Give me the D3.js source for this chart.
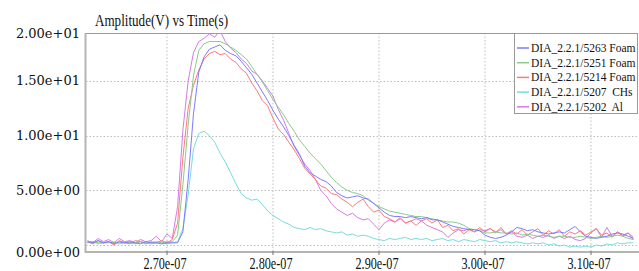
<!DOCTYPE html>
<html><head><meta charset="utf-8">
<script src="https://cdn.jsdelivr.net/npm/d3@7/dist/d3.min.js"></script>
<style>
html,body{margin:0;padding:0;background:#fff;}
svg{display:block;}
</style>
</head><body>
<div id="chart"></div>
<script>
// ---- DATA (time in ns, amplitude in V) ----
const sampleStart = 262.5, sampleStep = 0.5, sampleCount = 104;
const sampleTimes = d3.range(sampleCount).map(i => sampleStart + sampleStep * i);

const seriesNames = ["DIA_2.2.1/5263 Foam","DIA_2.2.1/5251 Foam","DIA_2.2.1/5214 Foam","DIA_2.2.1/5207  CHs","DIA_2.2.1/5202  Al"];
const seriesColors = ["#7c7cff","#8aca8a","#ff7878","#78dcdc","#d47ce4"];

const blue5263 = [
 0.3,0.2,0.4,0.2,0.3,0.1,0.3,0.2,0.3,0.2,
 0.1,0.3,0.2,0.2,0.1,0.2,0.2,0.2,1.2,6.0,
 12.0,15.8,17.2,17.9,18.1,18.3,17.8,17.5,17.3,16.8,
 16.2,15.6,14.8,14.0,13.2,12.3,11.5,10.8,10.0,9.1,
 8.3,7.2,6.6,6.3,6.0,5.8,5.4,4.8,4.5,4.3,
 4.4,4.5,4.3,4.2,3.8,3.4,3.0,2.7,2.6,2.6,
 2.5,2.6,2.5,2.4,2.5,2.3,2.3,2.1,1.9,1.7,
 1.6,1.5,1.4,1.4,1.3,0.9,0.7,0.6,0.7,0.9,
 1.2,1.6,1.5,1.3,1.4,1.2,1.1,1.0,1.1,1.2,
 1.1,1.4,1.7,1.2,0.8,0.7,0.6,0.7,0.8,1.0,
 1.1,1.0,0.8,0.6];
const green5251 = [
 0.2,0.3,0.2,0.2,0.3,0.2,0.2,0.3,0.2,0.2,
 0.3,0.2,0.2,0.3,0.2,0.3,0.3,0.9,5.5,11.0,
 15.5,17.8,18.4,18.6,18.6,18.6,18.4,18.1,17.8,17.4,
 17.0,16.3,15.6,14.9,14.1,13.3,12.6,11.9,11.1,10.4,
 9.6,9.0,8.4,7.9,7.4,6.8,6.2,5.7,5.3,5.0,
 4.8,4.7,4.5,4.1,3.8,3.5,3.3,3.1,3.0,2.9,
 2.8,2.7,2.6,2.6,2.5,2.4,2.3,2.2,2.1,2.1,
 2.0,1.8,1.5,1.4,1.3,1.1,1.1,1.2,1.1,1.1,
 1.0,1.1,0.9,1.0,0.9,0.8,0.9,0.8,0.7,0.8,
 0.8,0.7,0.7,0.8,0.7,0.6,0.7,0.8,0.7,0.8,
 0.9,0.8,0.6,0.5];
const red5214 = [
 0.3,0.1,0.4,0.2,0.3,0.0,0.4,0.2,0.1,0.4,
 0.3,0.1,0.3,0.2,0.4,0.2,0.5,2.0,8.0,12.5,
 14.6,16.0,17.0,17.5,17.7,17.4,17.5,17.0,16.7,16.1,
 15.7,14.8,14.1,13.2,12.7,11.6,10.6,10.1,9.4,8.7,
 7.9,7.0,6.5,6.0,5.4,5.2,4.7,4.6,4.2,3.9,
 3.5,3.9,4.2,3.5,3.0,3.2,2.6,2.4,2.1,2.5,
 2.0,2.2,1.8,2.2,2.4,2.0,2.3,1.6,1.8,1.3,
 1.5,1.0,1.4,1.2,1.6,1.2,1.5,1.1,1.6,1.0,
 1.3,1.0,1.4,0.9,1.2,1.5,0.9,1.3,1.0,1.4,
 0.8,1.2,1.0,1.3,0.9,1.2,1.5,0.9,1.1,0.7,
 1.2,0.8,1.1,0.5];
const cyan5207 = [
 0.2,0.3,0.1,0.2,0.2,0.3,0.1,0.2,0.2,0.1,
 0.3,0.2,0.1,0.2,0.2,0.1,0.2,0.3,1.5,4.6,
 8.8,10.2,10.4,10.0,9.4,8.4,7.6,6.6,5.6,4.7,
 4.3,4.1,4.2,3.7,3.1,2.7,2.4,2.1,1.9,1.6,
 1.5,1.4,1.6,1.4,1.5,1.3,1.2,1.1,1.2,0.9,
 1.0,0.8,0.9,0.8,0.6,0.5,0.4,0.6,0.5,0.6,
 0.7,0.5,0.6,0.5,0.6,0.4,0.5,0.6,0.4,0.5,
 0.3,0.5,0.4,0.3,0.5,0.4,0.3,0.4,0.2,0.3,
 0.2,0.3,0.2,0.1,0.2,0.1,0.2,0.0,0.1,-0.1,
 0.0,-0.2,-0.1,-0.2,-0.1,-0.2,0.0,-0.1,0.1,0.0,
 0.2,0.1,0.2,0.2];
const magenta5202 = [
 0.4,0.2,0.6,0.3,0.5,0.2,0.6,0.3,0.4,0.2,
 0.5,0.3,0.4,0.8,0.3,1.0,0.6,3.5,10.5,15.0,
 17.6,18.6,18.9,19.3,19.0,19.6,18.6,18.0,17.6,17.0,
 16.6,15.9,15.6,15.0,14.3,13.6,12.4,11.4,10.2,9.0,
 8.2,7.4,6.8,6.0,5.0,4.5,3.8,3.3,3.0,2.7,
 2.9,2.5,2.3,2.4,1.9,1.4,2.0,2.3,2.1,2.4,
 2.0,2.2,2.4,2.2,1.8,1.6,1.4,1.2,0.7,1.1,
 1.4,1.3,1.5,1.2,1.4,1.3,1.5,1.2,1.4,1.0,
 1.2,0.8,0.7,0.9,0.6,0.8,0.7,0.9,0.6,0.8,
 0.6,0.8,0.5,0.4,0.6,1.1,1.5,0.7,1.6,0.8,
 1.2,0.9,1.1,0.7];

const seriesValues = [blue5263, green5251, red5214, cyan5207, magenta5202];

const xTickValues = [270, 280, 290, 300, 310];
const xTickLabels = ["2.70e-07","2.80e-07","2.90e-07","3.00e-07","3.10e-07"];
const yTickValues = [0, 5, 10, 15, 20];
const yTickLabels = ["0.00e+00","5.00e+00","1.00e+01","1.50e+01","2.00e+01"];
const titleText = "Amplitude(V) vs Time(s)";

// ---- LAYOUT ----
const W = 639, H = 271;
const plot = {left: 86, right: 637, top: 33, bottom: 252};
const x = d3.scaleLinear().domain([262.36, 314.34]).range([plot.left, plot.right]);
const y = d3.scaleLinear().domain([-0.64, 19.38]).range([plot.bottom, plot.top]);

const svg = d3.select("#chart").append("svg").attr("width", W).attr("height", H);

svg.append("defs").append("clipPath").attr("id","clip")
  .append("rect").attr("x", plot.left).attr("y", plot.top)
  .attr("width", plot.right - plot.left).attr("height", plot.bottom - plot.top);

// grid
const grid = svg.append("g");
grid.selectAll("line.vg").data(xTickValues).join("line")
  .attr("x1", d => x(d)).attr("x2", d => x(d))
  .attr("y1", plot.top).attr("y2", plot.bottom + 2)
  .attr("stroke", "#bdbdbd").attr("stroke-width", 1).attr("stroke-dasharray", "1.5,2");
grid.selectAll("line.hg").data(yTickValues.filter(v => v < 20)).join("line")
  .attr("x1", plot.left).attr("x2", plot.right)
  .attr("y1", d => Math.round(y(d)) + 0.5).attr("y2", d => Math.round(y(d)) + 0.5)
  .attr("stroke", "#bdbdbd").attr("stroke-width", 1).attr("stroke-dasharray", "1.5,2");

// frame
svg.append("line").attr("x1", plot.left).attr("x2", plot.right).attr("y1", plot.top + 0.5).attr("y2", plot.top + 0.5)
  .attr("stroke", "#9a9a9a").attr("stroke-width", 1);
svg.append("line").attr("x1", plot.left - 0.5).attr("x2", plot.left - 0.5).attr("y1", plot.top).attr("y2", plot.bottom + 1)
  .attr("stroke", "#b4b4b4").attr("stroke-width", 2);
svg.append("line").attr("x1", plot.left - 1).attr("x2", W).attr("y1", plot.bottom).attr("y2", plot.bottom)
  .attr("stroke", "#b4b4b4").attr("stroke-width", 2);
svg.selectAll("line.xt").data(xTickValues).join("line")
  .attr("x1", d => x(d)).attr("x2", d => x(d))
  .attr("y1", plot.bottom - 1).attr("y2", plot.bottom + 3)
  .attr("stroke", "#777").attr("stroke-width", 1);

// series
const line = d3.line().x((d, i) => x(sampleTimes[i])).y(d => y(d));
const lines = svg.append("g").attr("clip-path", "url(#clip)");
const drawOrder = [3, 4, 2, 1, 0];
drawOrder.forEach(k => {
  lines.append("path").datum(seriesValues[k])
    .attr("d", line).attr("fill", "none")
    .attr("stroke", seriesColors[k]).attr("stroke-width", 1)
    .attr("stroke-linejoin", "round");
});

// y tick labels (end labels sit at the axis extremes)
svg.selectAll("text.yl").data(yTickValues).join("text")
  .attr("x", 80)
  .attr("y", (d, i) => i === 0 ? plot.bottom : (i === yTickValues.length - 1 ? plot.top : y(d)))
  .attr("dy", "0.35em")
  .attr("text-anchor", "end")
  .attr("font-family", "DejaVu Serif, serif").attr("font-size", 13)
  .attr("fill", "#111")
  .text((d, i) => yTickLabels[i]);

// x tick labels
svg.selectAll("text.xl").data(xTickValues).join("text")
  .attr("x", d => x(d) - 2)
  .attr("y", 269)
  .attr("text-anchor", "middle")
  .attr("font-family", "Liberation Serif, serif").attr("font-size", 16)
  .attr("textLength", 43).attr("lengthAdjust", "spacingAndGlyphs")
  .attr("fill", "#111")
  .text((d, i) => xTickLabels[i]);

// title
svg.append("text").attr("x", 95).attr("y", 26)
  .attr("font-family", "Liberation Serif, serif").attr("font-size", 16)
  .attr("textLength", 133).attr("lengthAdjust", "spacingAndGlyphs")
  .attr("fill", "#111").text(titleText);

// legend
const lg = svg.append("g");
lg.append("rect").attr("x", 514.5).attr("y", 33.5).attr("width", 123).attr("height", 80)
  .attr("fill", "#fff").attr("stroke", "#9a9a9a").attr("stroke-width", 1);
seriesNames.forEach((name, i) => {
  const cy = 48 + i * 14.7;
  lg.append("line").attr("x1", 517).attr("x2", 529).attr("y1", cy).attr("y2", cy)
    .attr("stroke", seriesColors[i]).attr("stroke-width", 1.5);
  lg.append("text").attr("x", 531).attr("y", cy).attr("dy", "0.35em")
    .attr("font-family", "Liberation Serif, serif").attr("font-size", 11.5)
    .style("white-space", "pre")
    .attr("fill", "#111").text(name);
});
</script>
</body></html>
